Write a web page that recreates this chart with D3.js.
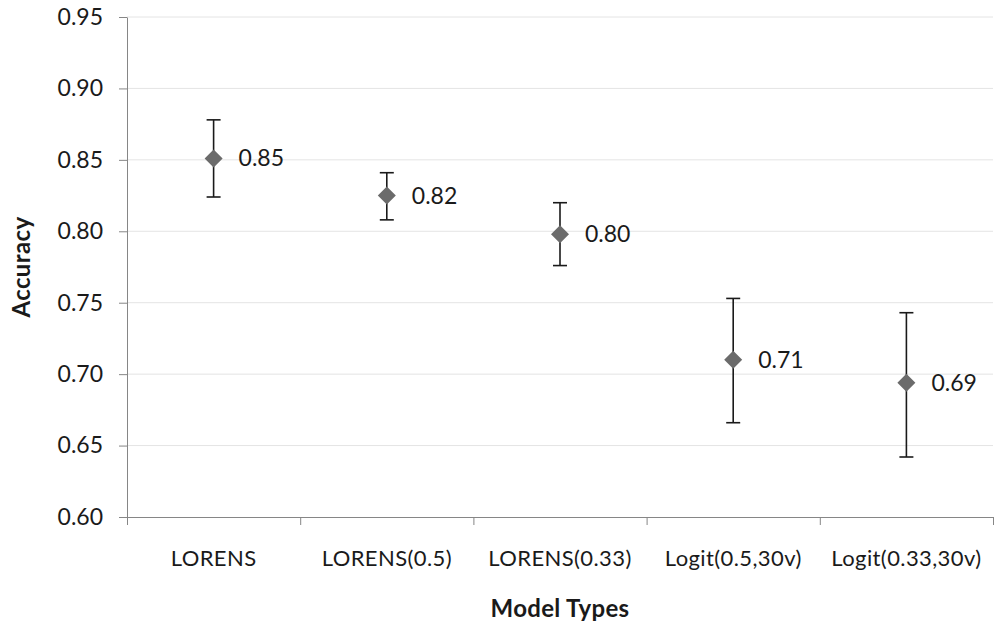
<!DOCTYPE html>
<html>
<head>
  <meta charset="utf-8" />
  <script src="https://d3js.org/d3.v7.min.js"></script>
  <style>
    body { margin: 0; background: #fff; font-family: Lato, sans-serif; }
    svg text { fill: #1a1a1a; }
  </style>
</head>
<body>
<div id="chart"></div>
<script>
var categories = ["LORENS", "LORENS(0.5)", "LORENS(0.33)", "Logit(0.5,30v)", "Logit(0.33,30v)"];
var accuracy = [0.851, 0.825, 0.798, 0.710, 0.694];
var upper = [0.878, 0.841, 0.820, 0.753, 0.743];
var lower = [0.824, 0.808, 0.776, 0.666, 0.642];
var labels = ["0.85", "0.82", "0.80", "0.71", "0.69"];
var yTicks = [0.60, 0.65, 0.70, 0.75, 0.80, 0.85, 0.90, 0.95];

var width = 997, height = 631;
var margin = { top: 17, right: 4, bottom: 114, left: 127 };
var font = "Lato, sans-serif";

var svg = d3.select("#chart").append("svg")
  .attr("width", width)
  .attr("height", height);

var x = d3.scaleBand()
  .domain(categories)
  .range([margin.left, width - margin.right]);

var y = d3.scaleLinear()
  .domain([0.60, 0.95])
  .range([height - margin.bottom, margin.top]);

// gridlines
svg.append("g")
  .selectAll("line")
  .data(yTicks.slice(1))
  .join("line")
  .attr("x1", margin.left)
  .attr("x2", width - margin.right)
  .attr("y1", d => y(d))
  .attr("y2", d => y(d))
  .attr("stroke", "#e4e4e4")
  .attr("stroke-width", 1);

// y axis
var yAxis = svg.append("g")
  .attr("transform", `translate(${margin.left},0)`)
  .call(d3.axisLeft(y).tickValues(yTicks).tickFormat(d3.format(".2f")).tickSize(8).tickSizeOuter(0).tickPadding(16));
yAxis.select(".domain").attr("stroke", "#868686");
yAxis.selectAll(".tick line").attr("stroke", "#868686");
yAxis.selectAll("text")
  .style("font-size", "23px")
  .style("font-family", font)
  .attr("fill", "#1a1a1a");

// x axis
var xAxis = svg.append("g")
  .attr("transform", `translate(0,${height - margin.bottom})`)
  .call(d3.axisBottom(x).tickSize(0).tickSizeOuter(0).tickPadding(33));
xAxis.select(".domain").attr("stroke", "#868686");
xAxis.selectAll("text")
  .style("font-size", "22px")
  .style("letter-spacing", "0.4px")
  .style("font-family", font)
  .attr("fill", "#1a1a1a");

// x boundary ticks
var bounds = categories.map(c => x(c)).concat([x(categories[categories.length - 1]) + x.bandwidth()]);
svg.append("g")
  .selectAll("line")
  .data(bounds)
  .join("line")
  .attr("x1", d => d + 0.5)
  .attr("x2", d => d + 0.5)
  .attr("y1", y(0.60))
  .attr("y2", y(0.60) + 8)
  .attr("stroke", "#868686");

var cx = i => x(categories[i]) + x.bandwidth() / 2;

// error bars
var eb = svg.append("g").attr("stroke", "#1a1a1a").attr("stroke-width", 1.6);
categories.forEach(function (c, i) {
  eb.append("line").attr("x1", cx(i)).attr("x2", cx(i)).attr("y1", y(upper[i])).attr("y2", y(lower[i]));
  eb.append("line").attr("x1", cx(i) - 7).attr("x2", cx(i) + 7).attr("y1", y(upper[i])).attr("y2", y(upper[i]));
  eb.append("line").attr("x1", cx(i) - 7).attr("x2", cx(i) + 7).attr("y1", y(lower[i])).attr("y2", y(lower[i]));
});

// markers
svg.append("g")
  .selectAll("path")
  .data(accuracy)
  .join("path")
  .attr("transform", (d, i) => `translate(${cx(i)},${y(d)})`)
  .attr("d", "M0,-9L9,0L0,9L-9,0Z")
  .attr("fill", "#6b6b6b");

// data labels
svg.append("g")
  .selectAll("text")
  .data(accuracy)
  .join("text")
  .attr("x", (d, i) => cx(i) + 25)
  .attr("y", d => y(d))
  .attr("dy", "0.35em")
  .style("font-size", "23px")
  .style("font-family", font)
  .text((d, i) => labels[i]);

// axis titles
svg.append("text")
  .attr("x", (margin.left + width - margin.right) / 2)
  .attr("y", 609)
  .attr("dy", "0.35em")
  .attr("text-anchor", "middle")
  .style("font-size", "24px")
  .style("letter-spacing", "0.3px")
  .style("font-family", font)
  .style("font-weight", "bold")
  .text("Model Types");

svg.append("text")
  .attr("transform", `translate(22,${y(0.775)}) rotate(-90)`)
  .attr("dy", "0.35em")
  .attr("text-anchor", "middle")
  .style("font-size", "24px")
  .style("letter-spacing", "0.4px")
  .style("font-family", font)
  .style("font-weight", "bold")
  .text("Accuracy");
</script>
</body>
</html>
